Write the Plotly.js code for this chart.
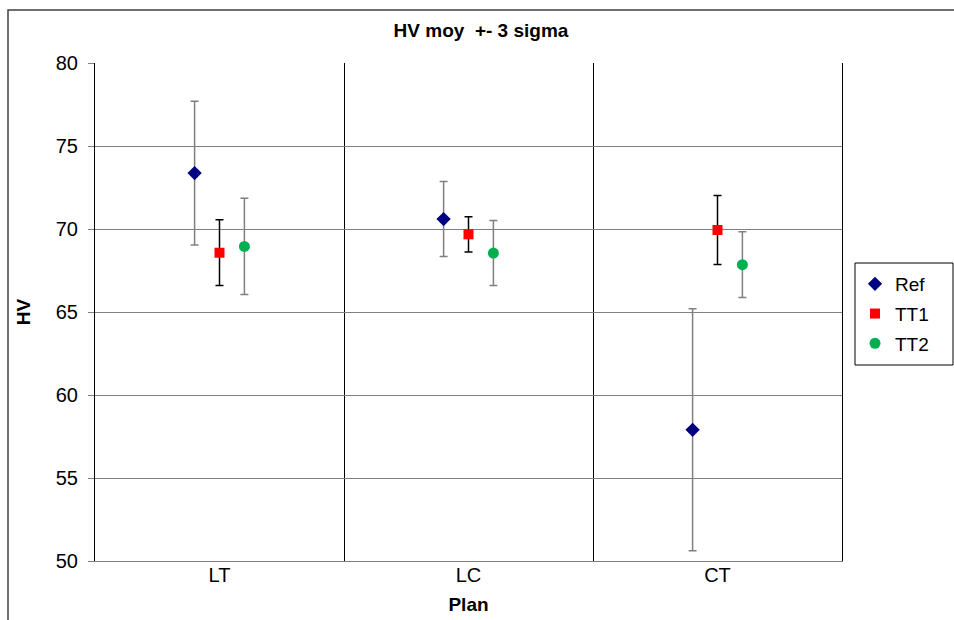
<!DOCTYPE html>
<html>
<head>
<meta charset="utf-8">
<script src="https://cdn.plot.ly/plotly-3.0.1.min.js"></script>
<style>
html,body{margin:0;padding:0;background:#fff;}
#chart{width:954px;height:620px;}
</style>
</head>
<body>
<div id="chart"></div>
<script>
// Data (HV mean and 3-sigma half-width)
const categories = ["LT", "LC", "CT"];
const refMean = [73.37, 70.60, 57.90];
const refSigma3 = [4.33, 2.26, 7.29];
const tt1Mean = [68.57, 69.68, 69.94];
const tt1Sigma3 = [1.98, 1.06, 2.08];
const tt2Mean = [68.95, 68.55, 67.85];
const tt2Sigma3 = [2.90, 1.96, 1.98];
const seriesNames = ["Ref", "TT1", "TT2"];
const yTicks = [50, 55, 60, 65, 70, 75, 80];

const catIdx = categories.map((c, i) => i + 1);
const offsets = [-0.1, 0, 0.1];

function mk(name, means, errs, k, marker, errColor) {
  return {
    type: "scatter",
    mode: "markers",
    name: name,
    legendgroup: name,
    x: catIdx.map(v => v + offsets[k]),
    y: means,
    marker: marker,
    error_y: {type: "data", array: errs, visible: true, color: errColor, thickness: 1.5, width: 4},
    cliponaxis: false
  };
}

const data = [
  mk(seriesNames[0], refMean, refSigma3, 0, {symbol: "diamond", color: "#000080", size: 11}, "#808080"),
  mk(seriesNames[1], tt1Mean, tt1Sigma3, 1, {symbol: "square", color: "#FF0000", size: 10}, "#000000"),
  mk(seriesNames[2], tt2Mean, tt2Sigma3, 2, {symbol: "circle", color: "#00B050", size: 11}, "#808080")
];

const FONT = "Liberation Sans, Arial, sans-serif";
const px = v => (v - 95) / 747;
const py = v => (561 - v) / 498;

const layout = {
  width: 954, height: 620,
  margin: {l: 95, r: 112, t: 63, b: 59},
  paper_bgcolor: "#ffffff",
  plot_bgcolor: "#ffffff",
  font: {family: FONT, color: "#000"},
  title: {
    text: "<b>HV moy  +- 3 sigma</b>",
    font: {family: FONT, size: 19, color: "#000"},
    x: 481 / 954, xref: "container", xanchor: "center",
    y: 1 - 30 / 620, yref: "container", yanchor: "middle"
  },
  xaxis: {
    range: [0.5, 3.5],
    tickmode: "array",
    tickvals: catIdx,
    ticktext: categories,
    ticks: "",
    showgrid: false,
    zeroline: false,
    showline: true,
    linecolor: "#808080",
    linewidth: 1,
    tickfont: {family: FONT, size: 20, color: "#000"},
    ticklabelstandoff: -4,
    minor: {tickmode: "array", tickvals: [1.5, 2.5], showgrid: true, gridcolor: "#000000", gridwidth: 1, ticks: ""},
    title: {text: "<b>Plan</b>", font: {family: FONT, size: 19, color: "#000"}, standoff: 12}
  },
  yaxis: {
    range: [50, 80],
    tickmode: "array",
    tickvals: yTicks,
    ticks: "outside",
    ticklen: 6,
    tickcolor: "#808080",
    tickwidth: 1,
    showgrid: true,
    gridcolor: "#808080",
    gridwidth: 1,
    zeroline: false,
    showline: true,
    mirror: true,
    linecolor: "#000000",
    linewidth: 1,
    tickfont: {family: FONT, size: 20, color: "#000"},
    ticklabelstandoff: 6,
    title: {text: "<b>HV</b>", font: {family: FONT, size: 19, color: "#000"}, standoff: 20}
  },
  showlegend: true,
  legend: {
    x: px(855), xanchor: "left",
    y: py(265), yanchor: "top",
    borderwidth: 0,
    bgcolor: "rgba(0,0,0,0)",
    font: {family: FONT, size: 19, color: "#000"},
    tracegroupgap: 2,
    itemwidth: 30
  },
  shapes: [
    {type: "rect", xref: "paper", yref: "paper",
     x0: px(8), x1: px(970),
     y0: py(640), y1: py(10),
     line: {color: "#404040", width: 1.5}, fillcolor: "rgba(0,0,0,0)", layer: "below"},
    {type: "rect", xref: "paper", yref: "paper",
     x0: px(855), x1: px(953),
     y0: py(365), y1: py(263),
     line: {color: "#000000", width: 1}, fillcolor: "#ffffff", layer: "below"}
  ]
};

Plotly.newPlot("chart", data, layout, {displayModeBar: false, staticPlot: true});
</script>
</body>
</html>
